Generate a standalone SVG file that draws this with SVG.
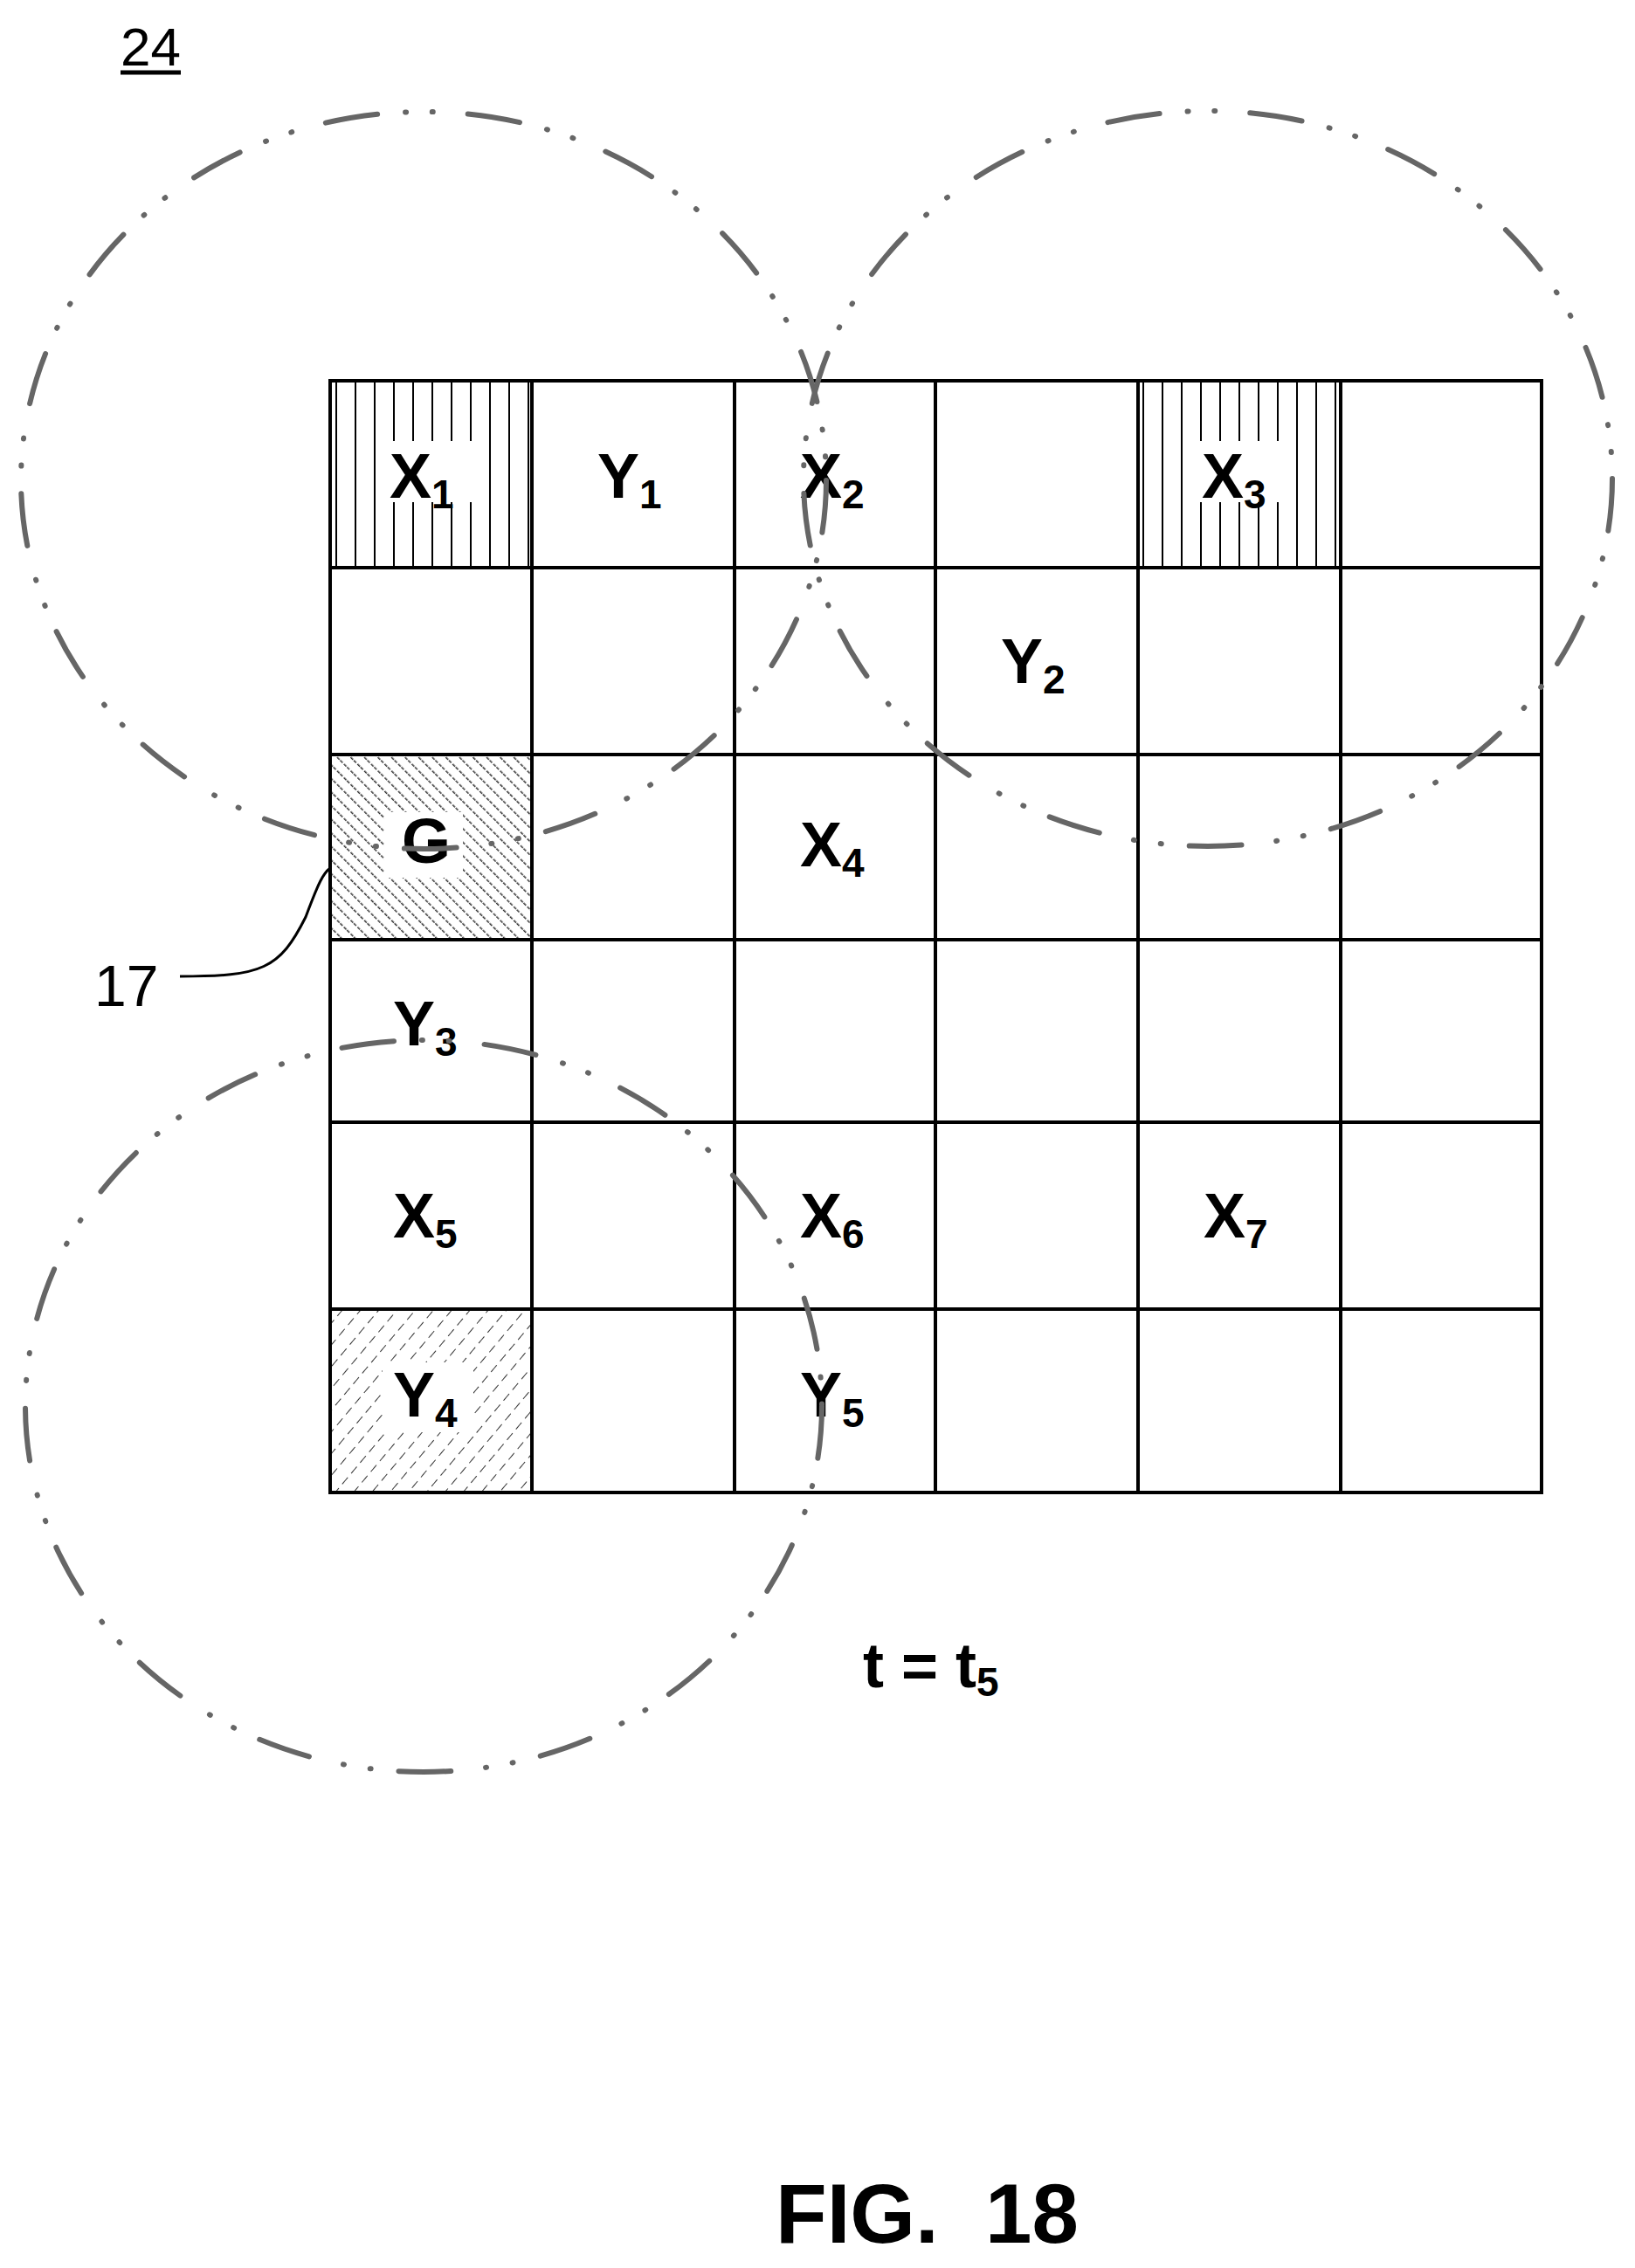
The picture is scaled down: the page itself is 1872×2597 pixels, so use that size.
<svg xmlns="http://www.w3.org/2000/svg" width="1872" height="2597" viewBox="0 0 1872 2597">
<style>
.g{fill:none;stroke:#000;stroke-width:4}
.lb{font-family:"Liberation Sans",Arial,sans-serif;font-weight:bold;font-size:72px;fill:#000}
.sb{font-size:46px}
.c{fill:none;stroke:#666;stroke-width:6;stroke-linecap:round;stroke-dasharray:60 32 1 30 1 40}
.t{font-family:"Liberation Sans",Arial,sans-serif;fill:#000}
</style>
<defs>
<pattern id="vert" width="22" height="20" patternUnits="userSpaceOnUse"><line x1="11" y1="0" x2="11" y2="20" stroke="#000" stroke-width="2"/></pattern>
<pattern id="dense" width="11" height="11" patternUnits="userSpaceOnUse" patternTransform="rotate(-45)"><line x1="0" y1="0" x2="0" y2="11" stroke="#333" stroke-width="3" stroke-dasharray="4 2"/></pattern>
<pattern id="light" width="16" height="16" patternUnits="userSpaceOnUse" patternTransform="rotate(40)"><line x1="0" y1="0" x2="0" y2="16" stroke="#333" stroke-width="2" stroke-dasharray="10 6"/></pattern>
</defs>
<g id="hatch">
<rect x="378" y="436" width="231" height="214" fill="url(#vert)"/>
<rect x="442" y="505" width="100" height="70" fill="#fff"/>
<rect x="1303" y="436" width="232" height="214" fill="url(#vert)"/>
<rect x="1367" y="505" width="100" height="70" fill="#fff"/>
<rect x="378" y="864" width="231" height="212" fill="url(#dense)"/>
<rect x="440" y="930" width="90" height="75" fill="#fff"/>
<rect x="378" y="1499" width="231" height="210" fill="url(#light)"/>
<rect x="438" y="1560" width="104" height="80" fill="#fff"/>
</g>
<g id="grid">
<rect class="g" x="378" y="436" width="1387" height="1273"/>
<path class="g" d="M609 436V1709M841 436V1709M1071 436V1709M1303 436V1709M1535 436V1709M378 650H1765M378 864H1765M378 1076H1765M378 1285H1765M378 1499H1765"/>
<path class="g" d="M378 436V650M609 436V650M1303 436V650M1535 436V650"/>
</g>
<g id="labels">
<text class="lb" x="446" y="570">X<tspan class="sb" dy="12">1</tspan></text>
<text class="lb" x="684" y="570">Y<tspan class="sb" dy="12">1</tspan></text>
<text class="lb" x="916" y="570">X<tspan class="sb" dy="12">2</tspan></text>
<text class="lb" x="1376" y="570">X<tspan class="sb" dy="12">3</tspan></text>
<text class="lb" x="1146" y="782">Y<tspan class="sb" dy="12">2</tspan></text>
<text class="lb" x="460" y="988">G</text>
<text class="lb" x="916" y="992">X<tspan class="sb" dy="12">4</tspan></text>
<text class="lb" x="450" y="1197">Y<tspan class="sb" dy="12">3</tspan></text>
<text class="lb" x="450" y="1417">X<tspan class="sb" dy="12">5</tspan></text>
<text class="lb" x="916" y="1417">X<tspan class="sb" dy="12">6</tspan></text>
<text class="lb" x="1378" y="1417">X<tspan class="sb" dy="12">7</tspan></text>
<text class="lb" x="450" y="1622">Y<tspan class="sb" dy="12">4</tspan></text>
<text class="lb" x="916" y="1622">Y<tspan class="sb" dy="12">5</tspan></text>
</g>
<g id="circles">
<ellipse class="c" cx="485" cy="550" rx="461" ry="422"/>
<ellipse class="c" cx="1383" cy="548" rx="463" ry="421"/>
<ellipse class="c" cx="485" cy="1610" rx="456" ry="419"/>
</g>
<g id="annotations">
<text class="t" x="138" y="75" font-size="62">24</text>
<line x1="138" y1="83" x2="207" y2="83" stroke="#000" stroke-width="5"/>
<text class="t" x="108" y="1152" font-size="66">17</text>
<path d="M206 1118 C300 1118 320 1110 350 1050 C365 1010 370 1000 378 994" fill="none" stroke="#000" stroke-width="3"/>
<text class="t" x="988" y="1932" font-size="72" font-weight="bold">t = t<tspan font-size="46" dy="10">5</tspan></text>
<text class="t" x="888" y="2568" font-size="96" font-weight="bold" xml:space="preserve">FIG.  18</text>
</g>
</svg>
